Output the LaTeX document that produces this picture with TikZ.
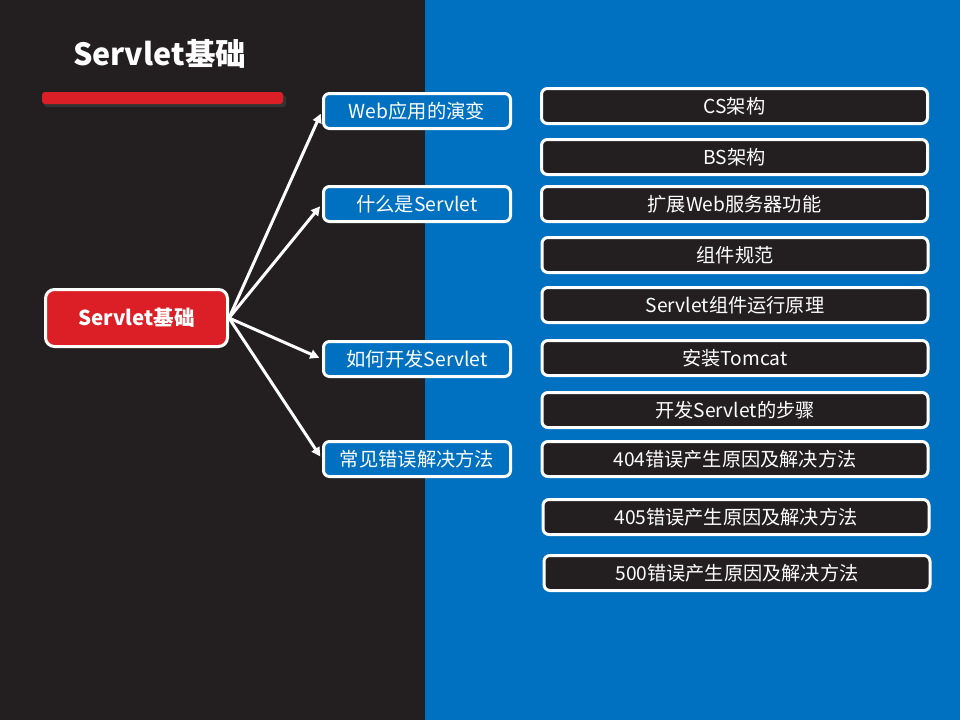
\documentclass[tikz,border=0pt]{standalone}
\usepackage{fontspec}
\setmainfont{Noto Sans CJK SC}
\usetikzlibrary{arrows.meta}
\definecolor{panel}{HTML}{231F20}
\definecolor{sea}{HTML}{0070C0}
\definecolor{signal}{HTML}{DC1F26}
\tikzset{
  root/.style={draw=white, line width=3pt, fill=signal, rounded corners=9pt,
    minimum width=182pt, minimum height=57pt, text=white,
    font=\fontsize{20.5}{24}\selectfont\bfseries},
  topic/.style={draw=white, line width=3pt, fill=sea, rounded corners=6pt,
    minimum width=187pt, minimum height=35pt, text=white,
    font=\fontsize{19.3}{22}\selectfont},
  leaf/.style={draw=white, line width=3pt, fill=panel, rounded corners=6pt,
    minimum width=386pt, minimum height=35pt, text=white,
    font=\fontsize{19.2}{22}\selectfont},
  link/.style={draw=white, line width=3pt,
    -{Triangle[length=9pt,width=9pt]}, shorten >=3pt}
}
\begin{document}
\begin{tikzpicture}[x=1pt,y=-1pt]
  % two-tone background
  \fill[panel] (0,0) rectangle (425,720);
  \fill[sea] (425,0) rectangle (960,720);
  \useasboundingbox (0,0) rectangle (960,720);

  % heading and underline bar
  \node[text=white, font=\fontsize{30.5}{36}\selectfont\bfseries] (title) at (159.5,54) {Servlet基础};
  \fill[black!80, rounded corners=3pt] (44,95) rectangle (286,107);
  \fill[signal, rounded corners=3pt] (42,92) rectangle (283,104);

  % central topic
  \node[root] (c) at (136.5,318) {Servlet基础};

  % second level
  \node[topic] (t1) at (417,111) {Web应用的演变};
  \node[topic] (t2) at (417,204) {什么是Servlet};
  \node[topic] (t3) at (417,359) {如何开发Servlet};
  \node[topic] (t4) at (417,459) {常见错误解决方法};

  % third level
  \node[leaf] (l1) at (734.5,106) {CS架构};
  \node[leaf] (l2) at (734.5,157) {BS架构};
  \node[leaf] (l3) at (734.5,204) {扩展Web服务器功能};
  \node[leaf] (l4) at (735,255) {组件规范};
  \node[leaf] (l5) at (735,305) {Servlet组件运行原理};
  \node[leaf] (l6) at (735,358) {安装Tomcat};
  \node[leaf] (l7) at (735,410) {开发Servlet的步骤};
  \node[leaf] (l8) at (735,459) {404错误产生原因及解决方法};
  \node[leaf] (l9) at (736,517) {405错误产生原因及解决方法};
  \node[leaf] (l10) at (737,573) {500错误产生原因及解决方法};

  % connectors
  \foreach \t in {t1,t2,t3,t4}
    \draw[link] (c.east) -- (\t.west);
\end{tikzpicture}
\end{document}
